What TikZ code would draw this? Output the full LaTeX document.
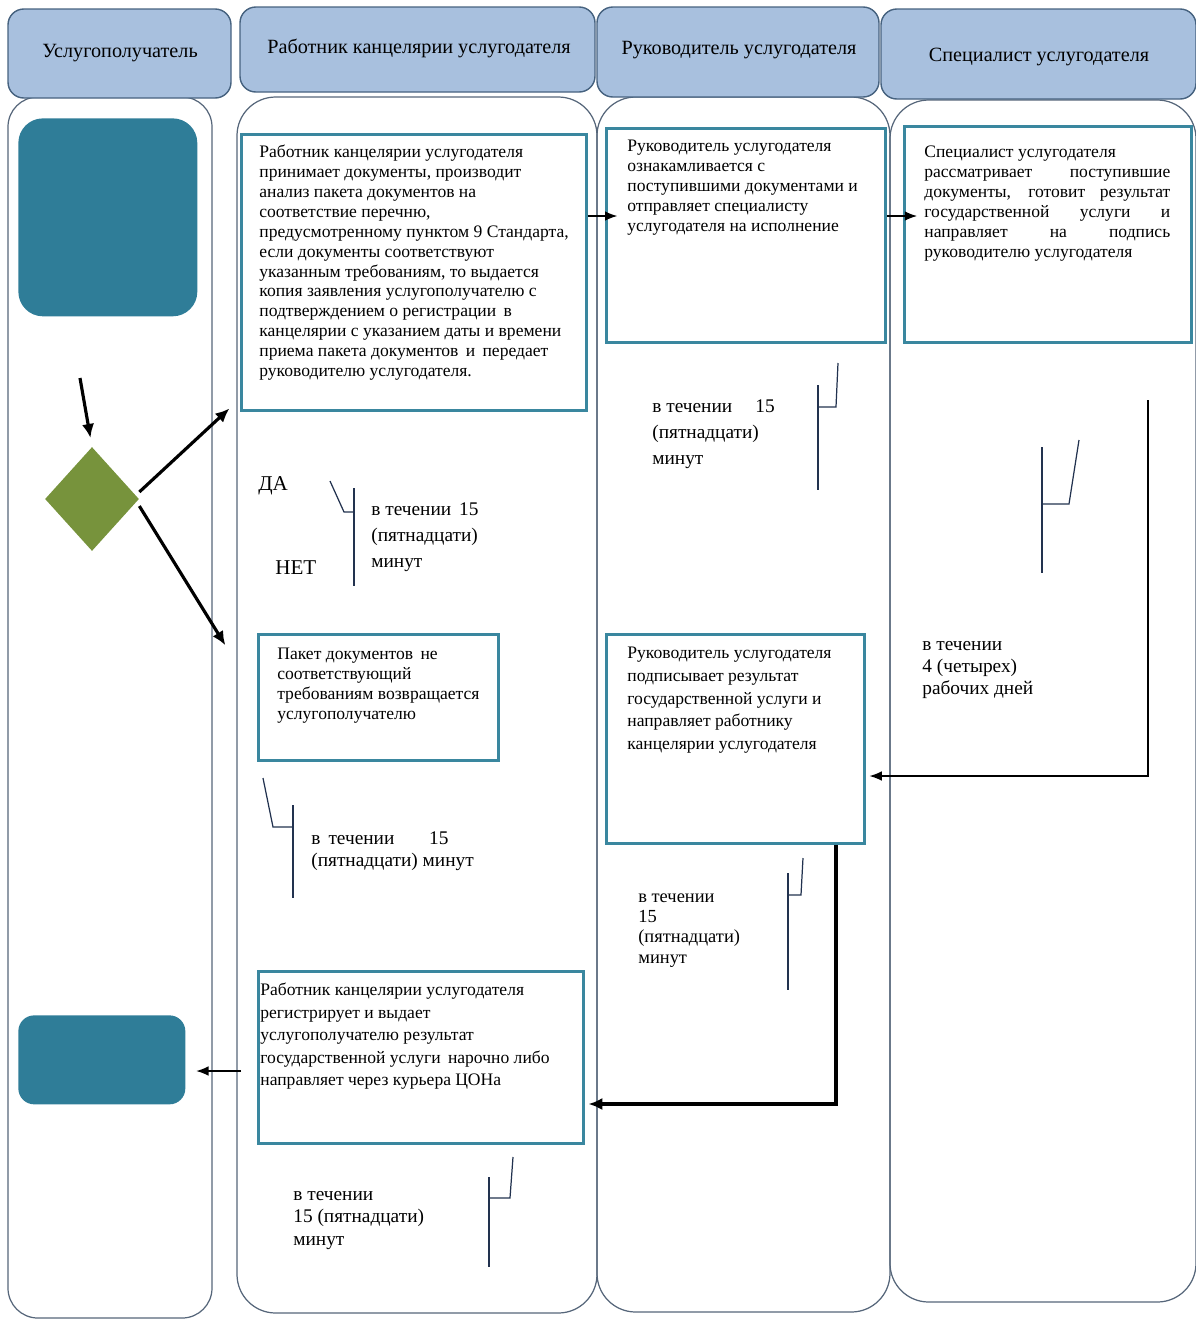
\documentclass[tikz,border=0pt]{standalone}
\usepackage{fontspec}
\setmainfont{Liberation Serif}
\usetikzlibrary{shapes.geometric,arrows.meta}

\definecolor{headblue}{HTML}{A8C0DE}
\definecolor{headline}{HTML}{46627F}
\definecolor{laneline}{HTML}{56667A}
\definecolor{boxteal}{HTML}{3A879F}
\definecolor{fillteal}{HTML}{2F7D98}
\definecolor{olive}{HTML}{77933C}
\definecolor{navy}{HTML}{22324F}

\tikzset{
  header/.style={draw=headline, fill=headblue, rounded corners=9pt, line width=0.8pt},
  lane/.style={draw=laneline, line width=0.7pt, rounded corners=22pt},
  stepbox/.style={draw=boxteal, line width=1.7pt, fill=white, inner sep=0pt, anchor=north west},
  tealbox/.style={fill=fillteal, inner sep=0pt, anchor=north west},
  headtext/.style={font=\fontsize{11.5}{13}\selectfont},
  boxtext/.style={anchor=north west, align=left, inner sep=0pt, font=\fontsize{10}{11.3}\selectfont},
  timetext/.style={anchor=north west, align=left, inner sep=0pt, font=\fontsize{11}{15}\selectfont},
  flow/.style={-{Latex[length=8pt,width=7pt]}, line width=1.8pt},
  thinflow/.style={-{Latex[length=7pt,width=5.5pt]}, line width=0.8pt},
  brace/.style={navy, line width=0.7pt},
}

\begin{document}
\begin{tikzpicture}[x=0.02cm,y=-0.02cm]
\useasboundingbox (0,0) rectangle (1196,1320);

% lanes
\draw[lane, rounded corners=17pt] (8,97) rectangle (212,1318);
\draw[lane] (237,97) rectangle (597,1313);
\draw[lane] (597,97) rectangle (890,1312);
\draw[lane] (890,100) rectangle (1196,1302);

% headers
\draw[header] (8,9) rectangle (231,98);
\draw[header] (240,7) rectangle (595,92);
\draw[header] (597,7) rectangle (879,97);
\draw[header] (881,9) rectangle (1196,99);
\node[headtext] (client) at (120,53) {Услугополучатель};
\node[headtext] (office) at (419,48) {Работник канцелярии услугодателя};
\node[headtext] (chief) at (739,50) {Руководитель услугодателя};
\node[headtext] (expert) at (1039,57) {Специалист услугодателя};

% start / finish
\node[tealbox, rounded corners=14pt, minimum width=3.58cm, minimum height=3.96cm] (start) at (18,118) {};
\node[tealbox, rounded corners=9pt, minimum width=3.34cm, minimum height=1.78cm] (finish) at (18,1015) {};
\node[diamond, fill=olive, inner sep=0pt, minimum width=1.88cm, minimum height=2.08cm] (check) at (92,499) {};

% step boxes
\node[stepbox, minimum width=6.9cm, minimum height=5.52cm] (accept) at (240,133) {};
\node[stepbox, minimum width=5.58cm, minimum height=4.28cm] (review) at (605,127) {};
\node[stepbox, minimum width=5.74cm, minimum height=4.32cm] (prepare) at (903,125) {};
\node[stepbox, minimum width=4.8cm, minimum height=2.52cm] (reject) at (257,633) {};
\node[stepbox, minimum width=5.16cm, minimum height=4.18cm] (sign) at (605,633) {};
\node[stepbox, minimum width=6.5cm, minimum height=3.44cm] (issue) at (257,970) {};

\node[boxtext] (accepttxt) at (259,145) {Работник канцелярии услугодателя\\
принимает документы, производит\\
анализ пакета документов на\\
соответствие перечню,\\
предусмотренному пунктом 9 Стандарта,\\
если документы соответствуют\\
указанным требованиям, то выдается\\
копия заявления услугополучателю с\\
подтверждением о регистрации\, в\\
канцелярии с указанием даты и времени\\
приема пакета документов\, и\, передает\\
руководителю услугодателя.};
\node[boxtext] (reviewtxt) at (627,140) {Руководитель услугодателя\\
ознакамливается с\\
поступившими документами и\\
отправляет специалисту\\
услугодателя на исполнение};
\node[boxtext, text width=4.92cm, align=justify] (preparetxt) at (924,146) {Специалист услугодателя\\
рассматривает поступившие\linebreak
документы, готовит результат\linebreak
государственной услуги и\linebreak
направляет на подпись\linebreak
руководителю услугодателя};
\node[boxtext] (rejecttxt) at (277,648) {Пакет документов\, не\\
соответствующий\\
требованиям возвращается\\
услугополучателю};
\node[boxtext, font=\fontsize{10}{12.9}\selectfont] (signtxt) at (627,647) {Руководитель услугодателя\\
подписывает результат\\
государственной услуги и\\
направляет работнику\\
канцелярии услугодателя};
\node[boxtext, font=\fontsize{10}{12.8}\selectfont] (issuetxt) at (260,983) {Работник канцелярии услугодателя\\
регистрирует и выдает\\
услугополучателю результат\\
государственной услуги\, нарочно либо\\
направляет через курьера ЦОНа};

% connectors
\coordinate (entry) at (80,378);
\coordinate (row1) at (0,216);
\coordinate (row3) at (0,776);
\coordinate (row5) at (836,1104);
\coordinate (row6) at (0,1071);
\coordinate (down3) at (1148,400);
\draw[flow, shorten >=5pt] (entry) -- (check.north);
\draw[flow] ([yshift=4pt]check.east) -- ([xshift=-6pt,yshift=2pt]accept.south west);
\draw[flow] ([yshift=-4pt]check.east) -- ([xshift=-18pt,yshift=-7pt]reject.north west);
\draw[thinflow] (accept.east |- row1) -- ([xshift=7pt]review.west |- row1);
\draw[thinflow] (review.east |- row1) -- ([xshift=8pt]prepare.west |- row1);
\draw[thinflow] (down3) |- ([xshift=2pt]sign.east |- row3);
\draw[flow, line width=2.2pt] (sign.south -| row5) |- ([xshift=2pt]issue.east |- row5);
\draw[thinflow] ([xshift=-9pt]issue.west |- row6) -- ([xshift=6pt]finish.east |- row6);

% decision labels
\node[anchor=west, inner sep=0pt, font=\fontsize{12}{14}\selectfont] (yes) at (258,486) {ДА};
\node[anchor=west, inner sep=0pt, font=\fontsize{12}{14}\selectfont] (no) at (275,568) {НЕТ};

% time notes
\draw[brace] (354,488) -- (354,586);
\draw[brace] (354,512) -- (344,512) -- (330,481);
\node[timetext] (time1) at (371,502) {в течении\, 15\\(пятнадцати)\\минут};

\draw[brace] (818,385) -- (818,490);
\draw[brace] (818,407) -- (836,407) -- (838,363);
\node[timetext] (time2) at (652,399) {в течении\hspace{1.2em}15\\(пятнадцати)\\минут};

\draw[brace] (1042,447) -- (1042,573);
\draw[brace] (1042,504) -- (1069,504) -- (1079,440);
\node[timetext, font=\fontsize{11}{12.5}\selectfont] (time3) at (922,641) {в течении\\4 (четырех)\\рабочих дней};

\draw[brace] (293,805) -- (293,898);
\draw[brace] (293,827) -- (273,827) -- (263,778);
\node[timetext, font=\fontsize{11}{13}\selectfont] (time4) at (311,831) {в\, течении\hspace{1.8em}15\\(пятнадцати) минут};

\draw[brace] (788,873) -- (788,990);
\draw[brace] (788,895) -- (801,895) -- (803,858);
\node[timetext, font=\fontsize{10.5}{11.6}\selectfont] (time5) at (638,893) {в течении\\15\\(пятнадцати)\\минут};

\draw[brace] (489,1177) -- (489,1267);
\draw[brace] (489,1198) -- (510,1198) -- (513,1157);
\node[timetext, font=\fontsize{11}{12.7}\selectfont] (time6) at (293,1191) {в течении\\15 (пятнадцати)\\минут};

\end{tikzpicture}
\end{document}
